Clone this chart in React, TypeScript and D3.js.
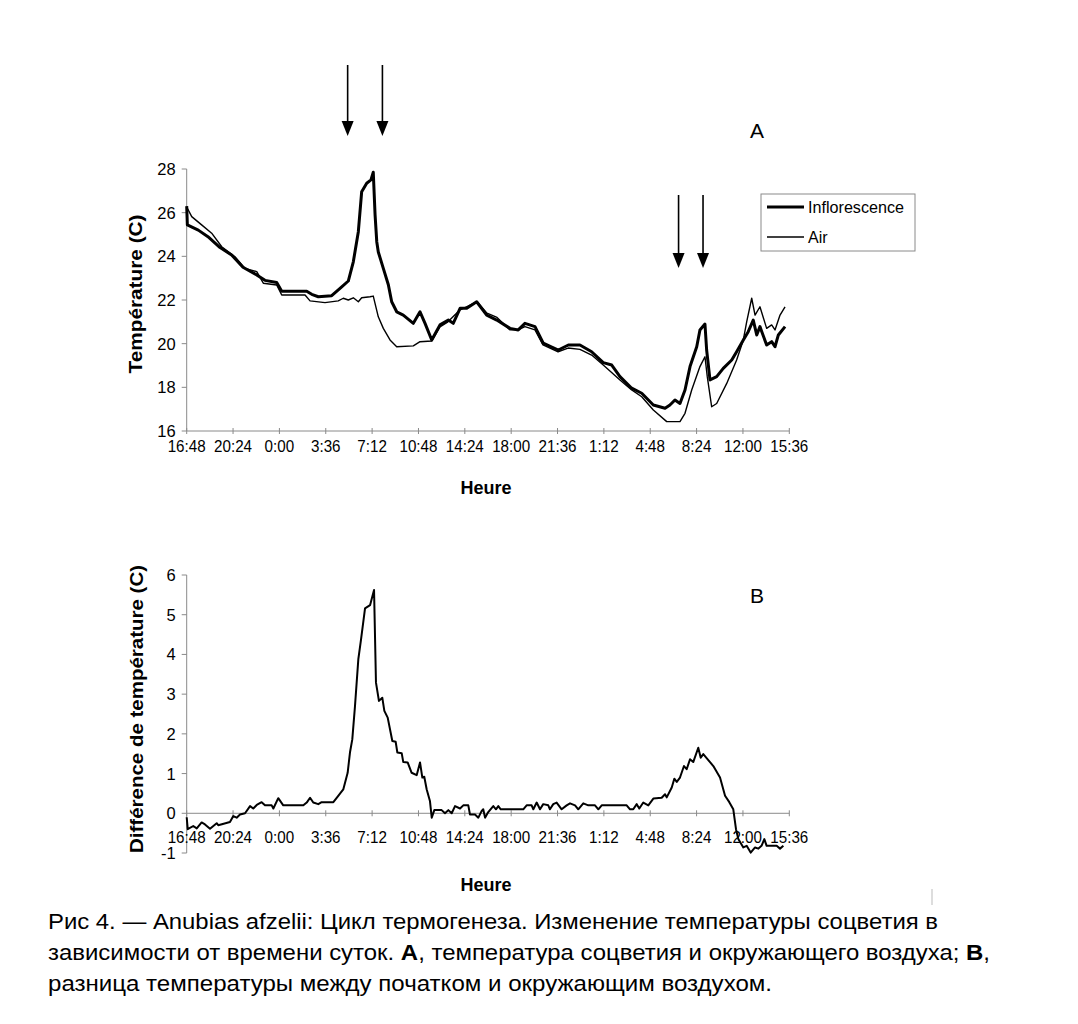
import React from 'react';
import * as d3 from 'd3';

// ---------- DATA ----------
const timeLabels = ['16:48', '20:24', '0:00', '3:36', '7:12', '10:48', '14:24', '18:00', '21:36', '1:12', '4:48', '8:24', '12:00', '15:36'];
// elapsed hours since 16:48 of each labelled tick
const timeTickHours = [0, 3.6, 7.2, 10.8, 14.4, 18, 21.6, 25.2, 28.8, 32.4, 36, 39.6, 43.2, 46.8];

const tempTicks = [16, 18, 20, 22, 24, 26, 28];
const diffTicks = [-1, 0, 1, 2, 3, 4, 5, 6];

// Inflorescence temperature (elapsed hours, °C)
const inflHours = [0, 0.05, 0.9, 1.65, 2.59, 3.49, 4.37, 5.44, 6.08, 6.99, 7.38, 9.32, 9.71, 10.22, 11.26, 12.04, 12.55, 12.94, 13.33, 13.59, 13.98, 14.31, 14.49, 14.63, 14.76, 14.88, 15.27, 15.66, 15.92, 16.31, 16.82, 17.6, 18.12, 18.51, 19.03, 19.67, 20.32, 20.7, 21.23, 21.75, 22.52, 23.3, 24.08, 25.11, 25.75, 26.27, 27.05, 27.69, 28.86, 29.64, 30.54, 31.45, 32.35, 33.01, 33.65, 34.56, 35.34, 36.24, 37.15, 37.53, 37.92, 38.31, 38.7, 39.09, 39.61, 39.86, 40.25, 40.38, 40.64, 41.16, 41.67, 42.33, 42.71, 43.23, 43.61, 44.0, 44.27, 44.52, 45.04, 45.43, 45.69, 45.95, 46.47];
const inflTemp = [26.3, 25.44, 25.2, 24.9, 24.4, 24.06, 23.5, 23.15, 22.9, 22.8, 22.4, 22.4, 22.26, 22.15, 22.2, 22.6, 22.87, 23.75, 25.13, 26.96, 27.35, 27.5, 27.85, 25.9, 24.67, 24.2, 23.45, 22.7, 21.92, 21.46, 21.31, 20.93, 21.46, 20.93, 20.17, 20.86, 21.08, 20.93, 21.62, 21.62, 21.92, 21.31, 21.08, 20.7, 20.63, 20.93, 20.78, 20.02, 19.71, 19.94, 19.94, 19.63, 19.13, 19.02, 18.49, 17.96, 17.73, 17.19, 17.04, 17.19, 17.42, 17.26, 17.88, 18.95, 19.86, 20.63, 20.9, 19.71, 18.34, 18.49, 18.87, 19.25, 19.63, 20.17, 20.55, 21.08, 20.4, 20.78, 19.94, 20.09, 19.86, 20.4, 20.78];

// Air temperature (elapsed hours, °C)
const airHours = [0, 0.39, 1.16, 1.94, 2.72, 3.75, 4.53, 5.44, 5.95, 6.99, 7.38, 9.19, 9.58, 10.74, 11.77, 12.16, 12.55, 12.94, 13.33, 13.59, 14.24, 14.49, 14.88, 15.27, 15.79, 16.31, 17.6, 18.12, 19.03, 19.67, 20.29, 21.23, 21.77, 22.55, 23.32, 24.1, 25.11, 25.73, 26.27, 27.05, 27.67, 28.84, 29.62, 30.54, 31.45, 32.35, 33.65, 34.56, 35.34, 36.24, 37.28, 38.31, 38.7, 39.22, 39.86, 40.25, 40.43, 40.77, 41.16, 41.94, 42.71, 43.23, 43.49, 43.88, 44.14, 44.52, 45.04, 45.43, 45.69, 46.08, 46.47];
const airTemp = [26.26, 25.82, 25.44, 25.06, 24.44, 23.98, 23.45, 23.3, 22.77, 22.69, 22.23, 22.23, 21.96, 21.88, 21.96, 22.08, 22.0, 22.1, 21.92, 22.1, 22.15, 22.18, 21.23, 20.7, 20.17, 19.86, 19.9, 20.09, 20.12, 20.77, 21.0, 21.55, 21.7, 21.92, 21.4, 21.2, 20.63, 20.63, 20.78, 20.63, 19.94, 19.63, 19.8, 19.74, 19.48, 19.02, 18.34, 17.88, 17.57, 16.96, 16.43, 16.43, 16.81, 17.88, 18.95, 19.4, 18.49, 17.11, 17.26, 18.18, 19.25, 20.17, 21.0, 22.08, 21.31, 21.69, 20.7, 20.86, 20.63, 21.31, 21.69];

// Temperature difference (elapsed hours, °C)
const diffHours = [0, 0.08, 0.51, 0.78, 1.16, 1.42, 1.81, 2.07, 2.33, 2.45, 3.36, 3.62, 3.88, 4.14, 4.53, 4.92, 5.17, 5.44, 5.82, 6.08, 6.6, 6.73, 7.11, 7.5, 9.06, 9.32, 9.58, 9.83, 10.22, 10.48, 11.39, 11.77, 12.16, 12.5, 12.68, 12.86, 13.07, 13.33, 13.54, 13.85, 14.24, 14.55, 14.7, 14.93, 15.19, 15.35, 15.61, 15.97, 16.23, 16.36, 16.7, 16.82, 17.16, 17.47, 17.86, 18.12, 18.3, 18.45, 18.64, 18.89, 19.03, 19.23, 19.8, 20.06, 20.32, 20.58, 20.84, 21.23, 21.48, 21.87, 22.0, 22.39, 22.65, 22.91, 23.03, 23.17, 23.42, 23.81, 24.02, 24.2, 24.39, 26.14, 26.4, 26.79, 26.92, 27.18, 27.44, 27.69, 28.08, 28.21, 28.47, 28.73, 29.12, 29.51, 29.77, 30.16, 30.41, 30.8, 31.19, 31.71, 31.97, 32.23, 34.17, 34.43, 34.68, 34.95, 35.15, 35.46, 35.85, 36.24, 36.89, 37.15, 37.28, 37.67, 37.87, 38.06, 38.31, 38.62, 38.83, 39.09, 39.34, 39.73, 39.92, 40.12, 40.51, 40.9, 41.42, 41.81, 42.14, 42.45, 42.66, 42.84, 43.23, 43.49, 43.8, 44.14, 44.4, 44.66, 44.86, 45.04, 45.82, 46.08, 46.34];
const diffValues = [-0.1, -0.4, -0.32, -0.38, -0.23, -0.28, -0.39, -0.32, -0.25, -0.3, -0.22, -0.07, -0.11, -0.03, 0, 0.18, 0.12, 0.21, 0.28, 0.2, 0.2, 0.12, 0.38, 0.2, 0.2, 0.27, 0.39, 0.27, 0.23, 0.28, 0.28, 0.44, 0.6, 1.02, 1.53, 1.86, 2.7, 3.88, 4.38, 5.16, 5.24, 5.62, 3.29, 2.83, 2.91, 2.58, 2.41, 1.82, 1.8, 1.53, 1.51, 1.29, 1.28, 1.02, 0.96, 1.28, 0.9, 0.92, 0.6, 0.31, -0.11, 0.08, 0.08, 0, 0.08, 0, 0.18, 0.12, 0.2, 0.2, -0.03, -0.03, -0.11, 0.06, 0.1, -0.11, 0.03, 0.18, 0.1, 0.18, 0.1, 0.1, 0.2, 0.2, 0.1, 0.27, 0.1, 0.23, 0.2, 0.1, 0.23, 0.27, 0.1, 0.2, 0.25, 0.2, 0.1, 0.25, 0.2, 0.2, 0.1, 0.2, 0.2, 0.1, 0.1, 0.23, 0.12, 0.27, 0.2, 0.37, 0.39, 0.48, 0.4, 0.65, 0.87, 0.79, 0.9, 1.19, 1.11, 1.36, 1.29, 1.65, 1.4, 1.49, 1.34, 1.19, 0.9, 0.44, 0.28, 0.1, -0.4, -0.65, -0.86, -0.82, -0.99, -0.86, -0.89, -0.81, -0.65, -0.82, -0.82, -0.89, -0.82];

// arrows marking events (elapsed hours)
const arrowHoursDay1 = [12.5, 15.2];
const arrowHoursDay2 = [38.2, 40.1];

const seriesNames = ['Inflorescence', 'Air'];

const captionLines = [
  [{ t: 'Рис 4. — Anubias afzelii: Цикл термогенеза. Изменение температуры соцветия в', b: false }],
  [
    { t: 'зависимости от времени суток. ', b: false },
    { t: 'A', b: true },
    { t: ', температура соцветия и окружающего воздуха; ', b: false },
    { t: 'B', b: true },
    { t: ',', b: false },
  ],
  [{ t: 'разница температуры между початком и окружающим воздухом.', b: false }],
];

// ---------- LAYOUT ----------
const W = 1078;
const H = 1024;
const FONT = 'Arial, "Liberation Sans", Helvetica, sans-serif';
const AXIS_COLOR = '#8a8a8a';

export default function App() {
  const x = d3.scaleLinear().domain([0, 46.8]).range([186.7, 789.3]);
  const yA = d3.scaleLinear().domain([16, 28]).range([431, 169]);
  const yB = d3.scaleLinear().domain([-1, 6]).range([853, 575]);

  const lineA = d3.line<[number, number]>().x((d) => x(d[0])).y((d) => yA(d[1]));
  const lineB = d3.line<[number, number]>().x((d) => x(d[0])).y((d) => yB(d[1]));

  const inflPts = inflHours.map((h, i) => [h, inflTemp[i]] as [number, number]);
  const airPts = airHours.map((h, i) => [h, airTemp[i]] as [number, number]);
  const diffPts = diffHours.map((h, i) => [h, diffValues[i]] as [number, number]);

  const arrow = (cx: number, y0: number, y1: number, key: string) => (
    <g key={key}>
      <line x1={cx} x2={cx} y1={y0} y2={y1 - 12} stroke="#000" strokeWidth={1.6} />
      <path d={`M${cx - 6},${y1 - 15} L${cx + 6},${y1 - 15} L${cx},${y1} Z`} fill="#000" />
    </g>
  );

  const x0 = x.range()[0];
  const x1 = x.range()[1];

  return (
    <svg width={W} height={H} style={{ position: 'absolute', left: 0, top: 0, background: '#fff' }} fontFamily={FONT}>
      <rect width={W} height={H} fill="#fff" />

      {/* ===== Chart A ===== */}
      <g>
        <line x1={x0} x2={x0} y1={yA(28)} y2={yA(16)} stroke={AXIS_COLOR} strokeWidth={1} />
        {tempTicks.map((v) => (
          <g key={'ta' + v}>
            <line x1={x0 - 5} x2={x0} y1={yA(v)} y2={yA(v)} stroke={AXIS_COLOR} strokeWidth={1} />
            <text x={x0 - 11} y={yA(v)} dy="0.36em" textAnchor="end" fontSize={16.5} fill="#000">{v}</text>
          </g>
        ))}
        <line x1={x0} x2={x1} y1={yA(16)} y2={yA(16)} stroke={AXIS_COLOR} strokeWidth={1} />
        {timeTickHours.map((h, i) => (
          <g key={'xa' + i}>
            <line x1={x(h)} x2={x(h)} y1={yA(16) - 3} y2={yA(16) + 3} stroke={AXIS_COLOR} strokeWidth={1} />
            <text x={x(h)} y={yA(16) + 15} dy="0.36em" textAnchor="middle" fontSize={16} fill="#000"
              transform={`translate(${x(h)},0) scale(0.95,1) translate(${-x(h)},0)`}>{timeLabels[i]}</text>
          </g>
        ))}
        <path d={lineA(airPts) || ''} fill="none" stroke="#000" strokeWidth={1.4} strokeLinejoin="round" />
        <path d={lineA(inflPts) || ''} fill="none" stroke="#000" strokeWidth={3} strokeLinejoin="round" />

        <text transform={`translate(136,${(yA(16) + yA(28)) / 2 - 6}) rotate(-90)`} textAnchor="middle" dy="0.35em" fontSize={18.5} fontWeight="bold" textLength={159} lengthAdjust="spacingAndGlyphs">Température (C)</text>
        <text x={486} y={488} dy="0.36em" textAnchor="middle" fontSize={18} fontWeight="bold">Heure</text>
        <text x={757} y={130} dy="0.36em" textAnchor="middle" fontSize={21}>A</text>

        {arrowHoursDay1.map((h, i) => arrow(x(h), 65, 136, 'a1' + i))}
        {arrowHoursDay2.map((h, i) => arrow(x(h), 195, 268, 'a2' + i))}

        {/* legend */}
        <rect x={761} y={194} width={154} height={57} fill="#fff" stroke={AXIS_COLOR} strokeWidth={1} />
        <line x1={767} x2={804} y1={207} y2={207} stroke="#000" strokeWidth={3} />
        <line x1={767} x2={804} y1={237} y2={237} stroke="#000" strokeWidth={1.4} />
        <text x={808} y={207} dy="0.36em" fontSize={16} textLength={96} lengthAdjust="spacingAndGlyphs">{seriesNames[0]}</text>
        <text x={808} y={237} dy="0.36em" fontSize={16}>{seriesNames[1]}</text>
      </g>

      {/* ===== Chart B ===== */}
      <g>
        <line x1={x0} x2={x0} y1={yB(6)} y2={yB(-1)} stroke={AXIS_COLOR} strokeWidth={1} />
        {diffTicks.map((v) => (
          <g key={'tb' + v}>
            <line x1={x0 - 5} x2={x0} y1={yB(v)} y2={yB(v)} stroke={AXIS_COLOR} strokeWidth={1} />
            <text x={x0 - 11} y={yB(v)} dy="0.36em" textAnchor="end" fontSize={16.5} fill="#000">{v}</text>
          </g>
        ))}
        <line x1={x0} x2={x1} y1={yB(0)} y2={yB(0)} stroke={AXIS_COLOR} strokeWidth={1} />
        {timeTickHours.map((h, i) => (
          <g key={'xb' + i}>
            <line x1={x(h)} x2={x(h)} y1={yB(0) - 3} y2={yB(0) + 3} stroke={AXIS_COLOR} strokeWidth={1} />
            <text x={x(h)} y={yB(0) + 24} dy="0.36em" textAnchor="middle" fontSize={16} fill="#000"
              transform={`translate(${x(h)},0) scale(0.95,1) translate(${-x(h)},0)`}>{timeLabels[i]}</text>
          </g>
        ))}
        <path d={lineB(diffPts) || ''} fill="none" stroke="#000" strokeWidth={2} strokeLinejoin="round" />

        <text transform={`translate(137,${(yB(6) + yB(-1)) / 2 - 5}) rotate(-90)`} textAnchor="middle" dy="0.35em" fontSize={18.5} fontWeight="bold" textLength={288} lengthAdjust="spacingAndGlyphs">Différence de température (C)</text>
        <text x={486} y={885} dy="0.36em" textAnchor="middle" fontSize={18} fontWeight="bold">Heure</text>
        <text x={757} y={595} dy="0.36em" textAnchor="middle" fontSize={21}>B</text>
      </g>

      {/* scan mark */}
      <line x1={932} x2={932} y1={889} y2={905} stroke="#bbb" strokeWidth={1} />

      {/* caption */}
      {captionLines.map((parts, li) => (
        <text key={'c' + li} x={48} y={929 + li * 31} fontSize={22.5} fill="#000"
          textLength={[890, 942, 724][li]} lengthAdjust="spacingAndGlyphs">
          {parts.map((p, pi) => (
            <tspan key={pi} fontWeight={p.b ? 'bold' : 'normal'}>{p.t}</tspan>
          ))}
        </text>
      ))}
    </svg>
  );
}
